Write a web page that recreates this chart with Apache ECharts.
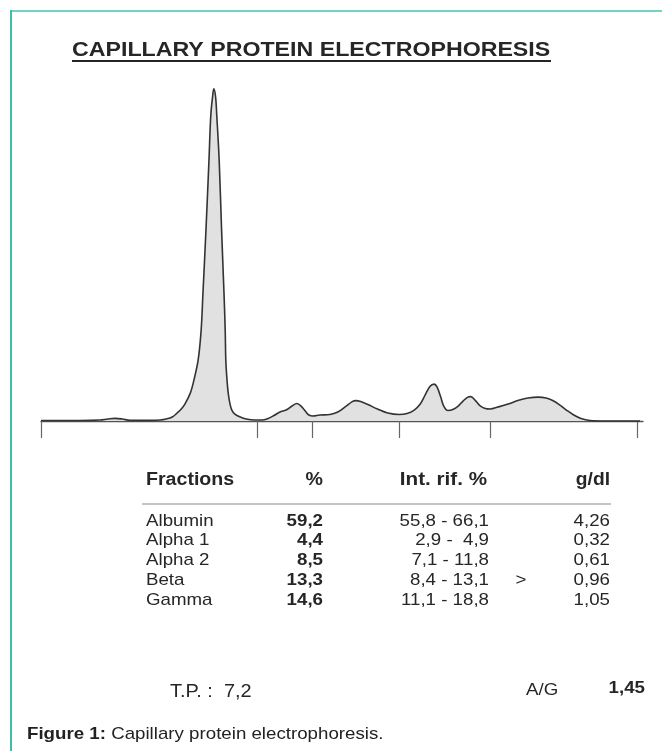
<!DOCTYPE html>
<html><head><meta charset="utf-8">
<script src="https://cdn.jsdelivr.net/npm/echarts@6/dist/echarts.min.js"></script>
<style>html,body{margin:0;padding:0;background:#fff}#c{width:662px;height:751px}</style>
</head><body><div id="c"></div>
<script>
// Electropherogram trace (migration position 0-100, relative absorbance, albumin peak = 100)
const migration = [0, 6.5, 9.8, 11.1, 12.3, 13.5, 14.8, 18.1, 19.8, 20.8, 21.8, 22.6, 23.3, 23.9, 24.8, 25.4, 26.1, 26.6, 26.9, 27.4, 27.9, 28.2, 28.5, 28.7, 29.0, 29.2, 29.6, 30.0, 30.4, 30.6, 30.7, 30.9, 31.1, 31.4, 31.7, 32.2, 33.1, 34.1, 35.5, 36.7, 37.7, 38.7, 39.7, 40.7, 41.7, 42.5, 43.2, 43.9, 44.5, 45.2, 46.3, 48.0, 49.3, 50.7, 51.7, 52.3, 53.1, 54.3, 55.9, 57.6, 59.5, 60.8, 62.0, 63.0, 63.8, 64.6, 65.3, 65.8, 66.4, 66.9, 67.6, 68.4, 69.3, 70.1, 70.9, 71.4, 72.1, 72.9, 73.8, 74.6, 75.9, 77.6, 79.2, 80.9, 82.6, 83.9, 85.0, 86.2, 87.4, 88.5, 89.7, 91.2, 93.7, 99.5];
const absorbance = [0.15, 0.15, 0.3, 0.6, 0.8, 0.6, 0.2, 0.2, 0.3, 0.6, 1.2, 2.4, 3.6, 5.1, 8.4, 12.3, 18.3, 27.3, 38.4, 57.4, 78.4, 91.9, 97.6, 100, 97.6, 91.9, 78.4, 57.4, 38.4, 27.3, 18.3, 12.3, 8.4, 5.1, 3.3, 2.1, 1.2, 0.6, 0.3, 0.3, 0.75, 1.65, 2.7, 3.3, 4.5, 5.25, 4.5, 3.0, 1.8, 1.5, 1.8, 1.95, 2.7, 4.5, 5.85, 6.15, 5.85, 4.95, 3.6, 2.4, 1.95, 2.25, 3.3, 5.1, 7.8, 10.4, 11.1, 10.2, 7.2, 4.5, 3.15, 3.45, 4.5, 6.0, 7.2, 7.35, 6.3, 4.65, 3.75, 3.6, 4.2, 5.1, 6.15, 6.9, 7.2, 6.9, 6.15, 4.8, 3.15, 1.8, 0.75, 0.15, 0, 0];
// Fraction boundaries (tick marks on the baseline)
const boundaries = [0, 35.9, 45.0, 59.5, 74.6, 99.0];

// Report table
const headers = ['Fractions', '%', 'Int. rif. %', 'g/dl'];
const fractions = ['Albumin', 'Alpha 1', 'Alpha 2', 'Beta', 'Gamma'];
const percents = ['59,2', '4,4', '8,5', '13,3', '14,6'];
const refRanges = ['55,8 - 66,1', '2,9 -  4,9', '7,1 - 11,8', '8,4 - 13,1', '11,1 - 18,8'];
const flags = ['', '', '', '>', ''];
const gdl = ['4,26', '0,32', '0,61', '0,96', '1,05'];
const totalProtein = '7,2';
const agRatio = '1,45';

const FONT = "'Liberation Sans', Arial, sans-serif";
const INK = '#262626';
const SX = 1.1;

function txt(x, y, s, size, bold, align, sx) {
  return {
    type: 'text', x: x, y: y, scaleX: sx || SX,
    style: { text: s, fill: INK, fontFamily: FONT, fontSize: size,
             fontWeight: bold ? 'bold' : 'normal', align: align || 'left', verticalAlign: 'middle' }
  };
}

const graphics = [];
// frame
graphics.push({ type: 'line', shape: { x1: 10, y1: 11, x2: 662, y2: 11 }, style: { stroke: '#72d3c2', lineWidth: 2 } });
graphics.push({ type: 'line', shape: { x1: 11, y1: 10, x2: 11, y2: 751 }, style: { stroke: '#3dbfa3', lineWidth: 2 } });
// title
graphics.push({ type: 'text', x: 72, y: 50, scaleX: 1.159,
  style: { text: 'CAPILLARY PROTEIN ELECTROPHORESIS', fill: '#262626', fontFamily: FONT, fontSize: 20, fontWeight: 'bold', align: 'left', verticalAlign: 'middle' } });
graphics.push({ type: 'line', shape: { x1: 72, y1: 61, x2: 551, y2: 61 }, style: { stroke: '#262626', lineWidth: 2 } });

// table header
const colX = { name: 146, pct: 323, ref: 487, flag: 521, gdl: 610 };
const headerY = 480;
graphics.push(txt(colX.name, headerY, headers[0], 17.5, true, 'left', 1.12));
graphics.push(txt(colX.pct, headerY, headers[1], 17.5, true, 'right', 1.12));
graphics.push(txt(colX.ref, headerY, headers[2], 17.5, true, 'right', 1.18));
graphics.push(txt(colX.gdl, headerY, headers[3], 17.5, true, 'right', 1.1));
graphics.push({ type: 'line', shape: { x1: 142, y1: 504, x2: 611, y2: 504 }, style: { stroke: '#8a8a8a', lineWidth: 1.2 } });

const rowY0 = 521, rowStep = 19.8;
fractions.forEach(function (f, i) {
  const y = rowY0 + i * rowStep;
  graphics.push(txt(colX.name, y, f, 17, false, 'left'));
  graphics.push(txt(colX.pct, y, percents[i], 17, true, 'right'));
  graphics.push(txt(489, y, refRanges[i], 17, false, 'right'));
  if (flags[i]) graphics.push(txt(colX.flag, y, flags[i], 17, false, 'center'));
  graphics.push(txt(colX.gdl, y, gdl[i], 17, false, 'right'));
});

// totals
graphics.push(txt(170, 692, 'T.P. :  ' + totalProtein, 17.5, false, 'left', 1.14));
graphics.push(txt(526, 690, 'A/G', 17, false, 'left'));
graphics.push(txt(645, 688, agRatio, 17, true, 'right'));

// caption
graphics.push({ type: 'text', x: 27, y: 734, scaleX: 1.1,
  style: { text: '{b|Figure 1:} Capillary protein electrophoresis.', fill: '#222', fontFamily: FONT, fontSize: 17,
           align: 'left', verticalAlign: 'middle',
           rich: { b: { fontWeight: 'bold', fontFamily: FONT, fontSize: 17, fill: '#222' } } } });

const chart = echarts.init(document.getElementById('c'), null, { renderer: 'canvas' });
chart.setOption({
  animation: false,
  backgroundColor: '#ffffff',
  grid: { left: 41, right: 19, top: 55.7, bottom: 330 },
  xAxis: {
    type: 'value', min: 0, max: 100,
    axisLine: { show: true, lineStyle: { color: '#555', width: 1.3 } },
    axisTick: { show: true, customValues: boundaries, length: 17, inside: false, lineStyle: { color: '#666', width: 1.2 } },
    axisLabel: { show: false },
    splitLine: { show: false }
  },
  yAxis: { type: 'value', min: 0, max: 110, show: false, splitLine: { show: false } },
  series: [{
    type: 'line',
    data: migration.map(function (x, i) { return [x, absorbance[i]]; }),
    showSymbol: false,
    smooth: 0.35,
    clip: false,
    lineStyle: { color: '#333', width: 1.6 },
    areaStyle: { color: '#e1e1e1', opacity: 1 }
  }],
  graphic: graphics
});
</script>
</body></html>
